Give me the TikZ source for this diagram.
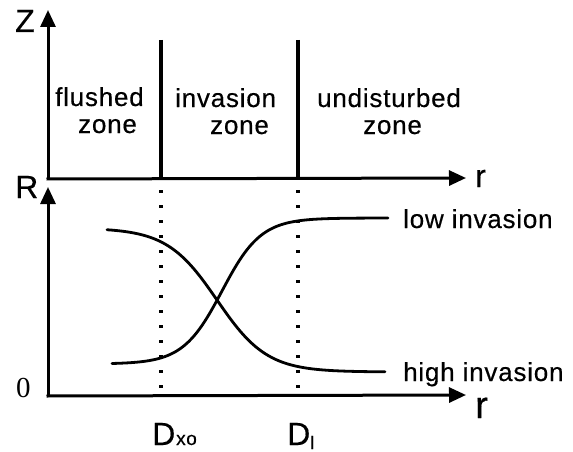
\documentclass[tikz,border=0pt]{standalone}
\usepackage{fontspec}
\setmainfont{Liberation Sans}[LetterSpace=3,FakeBold=0.4]
\newfontfamily\zerofont{Liberation Serif}
\usetikzlibrary{arrows.meta}
\begin{document}
\begin{tikzpicture}[x=1pt,y=-1pt,
  axis/.style={line width=3pt,-{Triangle[length=17pt,width=15pt]}},
  bound/.style={line width=3.6pt},
  dotline/.style={line width=3.4pt,dash pattern=on 3.4pt off 11.6pt},
  curve/.style={line width=2.8pt,line cap=round},
  lab/.style={inner sep=0pt,anchor=base west,font=\fontsize{26}{31}\selectfont},
  axlab/.style={inner sep=0pt,anchor=base west,font=\fontsize{32}{37}\selectfont},
  sublab/.style={inner sep=0pt,anchor=base west,font=\fontsize{19}{22}\selectfont},
]
\useasboundingbox (0,0) rectangle (573,452);
% coordinates
\coordinate (zo) at (48,179);
\coordinate (ztip) at (48,10);
\coordinate (rtip1) at (466,178);
\coordinate (ro) at (48,396);
\coordinate (Rtip) at (48,187);
\coordinate (rtip2) at (466,395);
\coordinate (b1t) at (161,40);
\coordinate (b1b) at (161,179);
\coordinate (b2t) at (298,40);
\coordinate (b2b) at (298,179);
\coordinate (d1t) at (161,190);
\coordinate (d1b) at (161,394);
\coordinate (d2t) at (298,190);
\coordinate (d2b) at (298,394);
% axes
\draw[axis] (zo) -- (ztip);
\draw[axis] ([xshift=-1.5pt]zo) -- (rtip1);
\draw[axis] (ro) -- (Rtip);
\draw[axis] ([xshift=-1.5pt]ro) -- (rtip2);
% boundaries
\draw[bound] (b1t) -- (b1b);
\draw[bound] (b2t) -- (b2b);
\draw[dotline] (d1t) -- (d1b);
\draw[dotline] (d2t) -- (d2b);
% curves
\draw[curve] plot[domain=107:385,samples=120,smooth] (\x,{300+72*tanh((\x-217)/50)});
\draw[curve] plot[domain=112:388,samples=120,smooth] (\x,{291-73*tanh((\x-222)/39)});
% labels
\node[axlab] (Z) at (15,32) {Z};
\node[axlab] (R) at (15,198) {R};
\node[inner sep=0pt,anchor=base west,font=\zerofont\fontsize{29}{34}\selectfont] (zero) at (16,397) {0};
\node[axlab] (r1) at (475,187) {r};
\node[axlab,font=\fontsize{38}{44}\selectfont] (r2) at (475,418) {r};
\node[lab] (fl1) at (55,106) {flushed};
\node[lab] (fl2) at (78,133) {zone};
\node[lab] (in1) at (175,107) {invasion};
\node[lab] (in2) at (210,134) {zone};
\node[lab] (un1) at (317,107) {undisturbed};
\node[lab] (un2) at (363,134) {zone};
\node[lab] (low) at (403,228) {low invasion};
\node[lab] (high) at (403,381) {high invasion};
\node[axlab] (dx) at (152,445) {D};
\node[sublab] (dxs) at (176,445) {xo};
\node[axlab] (dl) at (287,445) {D};
\node[sublab,font=\fontsize{18}{22}\selectfont] (dls) at (310,449) {l};
\end{tikzpicture}
\end{document}
